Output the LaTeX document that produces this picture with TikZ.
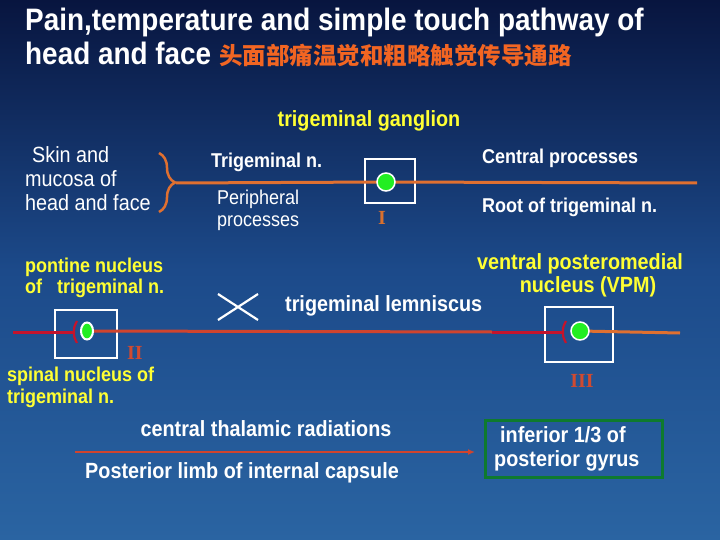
\documentclass[tikz,border=0pt]{standalone}
\usepackage{fontspec}
\usetikzlibrary{arrows.meta,decorations.pathreplacing,shapes.geometric}
\newfontfamily\tf[FakeStretch=0.9]{Liberation Sans}
\newfontfamily\cjk{Noto Sans CJK SC}
\newfontfamily\rom{Liberation Serif}
\definecolor{bgtop}{HTML}{08153F}
\definecolor{bgmid}{HTML}{1C4A8A}
\definecolor{bgbot}{HTML}{2A64A2}
\definecolor{orl}{HTML}{E07030}
\definecolor{redl}{HTML}{D0442E}
\definecolor{dred}{HTML}{C4142C}
\definecolor{yel}{HTML}{FFFF33}
\definecolor{cn}{HTML}{F26522}
\definecolor{gdot}{HTML}{22EE22}
\definecolor{gbox}{HTML}{0E7A2E}
\definecolor{numI}{HTML}{D8702E}
\definecolor{numR}{HTML}{D04A30}
\tikzset{
  lbl/.style={inner sep=0pt, anchor=base west, text=white},
  bigb/.style={font=\tf\bfseries\fontsize{22}{24}\selectfont},
  bigr/.style={font=\tf\fontsize{22}{24}\selectfont},
  smb/.style={font=\tf\bfseries\fontsize{20}{22}\selectfont},
  smr/.style={font=\tf\fontsize{20}{22}\selectfont},
  numstyle/.style={inner sep=0pt, anchor=base, font=\rom\bfseries\fontsize{20}{22}\selectfont},
  nbox/.style={draw=white, line width=2.5pt, inner sep=0pt},
  dotc/.style={circle, fill=gdot, draw=white, line width=1.5pt, minimum size=18pt, inner sep=0pt},
  olin/.style={draw=orl, line width=3pt},
  rlin/.style={draw=redl, line width=3pt},
  drlin/.style={draw=dred, line width=3pt},
}
\begin{document}
\begin{tikzpicture}[x=1pt,y=-1pt]
\shade[top color=bgtop, bottom color=bgbot, middle color=bgmid] (0,0) rectangle (720,540);
\useasboundingbox (0,0) rectangle (720,540);

% title
\node[lbl, font=\tf\bfseries\fontsize{31}{33}\selectfont] (t1) at (25,31) {Pain,temperature and simple touch pathway of};
\node[lbl, font=\tf\bfseries\fontsize{31}{33}\selectfont] (t2) at (25,65) {head and face {\cjk\bfseries\fontsize{23.5}{26}\selectfont\color{cn}头面部痛温觉和粗略触觉传导通路}};

\node[lbl, bigb, text=yel, anchor=base] (gang) at (369,126.5) {trigeminal ganglion};

% boxes
\node[nbox, minimum width=50pt, minimum height=44pt] (boxI) at (390,181) {};
\node[nbox, minimum width=62pt, minimum height=48pt] (boxII) at (86,334) {};
\node[nbox, minimum width=68pt, minimum height=55pt] (boxIII) at (579,334.5) {};

% coordinates
\coordinate (btip) at (176,183);
\coordinate (cpend) at (697,183);
\coordinate (l2s) at (13,332);
\coordinate (syn2) at (74,332);
\coordinate (mid) at (492,332);
\coordinate (syn3) at (563,332);
\coordinate (l3e) at (680,333);
\coordinate (ar1) at (75,452);
\coordinate (ar2) at (475,452);

% dots (positions)
\coordinate (dI) at (386,182);
\coordinate (dII) at (87,331);
\coordinate (dIII) at (580,331);

% brace
\draw[orl, line width=2.5pt, decorate, decoration={brace, amplitude=16pt}] (159,153) -- (159,212);

% lines
\draw[olin] (btip) -- (dI) -- (cpend);
\draw[drlin] (l2s) -- (syn2);
\draw[dred, line width=2.2pt] ([shift={(3,-11)}]syn2) .. controls ([shift={(0,-5)}]syn2) .. (syn2) .. controls ([shift={(0,5)}]syn2) .. ([shift={(3,11)}]syn2);
\draw[rlin] (dII) -- (mid);
\draw[drlin] (mid) -- (syn3);
\draw[dred, line width=2.2pt] ([shift={(3,-11)}]syn3) .. controls ([shift={(0,-5)}]syn3) .. (syn3) .. controls ([shift={(0,5)}]syn3) .. ([shift={(3,11)}]syn3);
\draw[olin] (dIII) -- (l3e);
\draw[redl, line width=2.5pt, -{Latex[length=7pt,width=6pt]}] (ar1) -- (ar2);

% decussation
\draw[white, line width=2.2pt] (218,294) -- (258,320) (218,320) -- (258,294);

% dots
\node[dotc] (dotI) at (dI) {};
\node[ellipse, fill=gdot, draw=white, line width=2pt, minimum width=12pt, minimum height=17pt, inner sep=0pt] (dotII) at (dII) {};
\node[dotc] (dotIII) at (dIII) {};

% left texts
\node[lbl, bigr] (sk1) at (32,162.5) {Skin and};
\node[lbl, bigr] (sk2) at (25,186.5) {mucosa of};
\node[lbl, bigr] (sk3) at (25,210.5) {head and face};

\node[lbl, smb] (trn) at (211,168) {Trigeminal n.};
\node[lbl, smr] (per1) at (217,205) {Peripheral};
\node[lbl, smr] (per2) at (217,226) {processes};
\node[lbl, smb] (cen) at (482,164) {Central processes};
\node[lbl, smb] (root) at (482,213) {Root of trigeminal n.};

\node[numstyle, text=numI] (nI) at (382,225) {I};
\node[numstyle, text=numR] (nII) at (135,359) {II};
\node[numstyle, text=numR] (nIII) at (582,387) {III};

\node[lbl, smb, text=yel] (pon1) at (25,272) {pontine nucleus};
\node[lbl, smb, text=yel] (pon2) at (25,293) {of\hspace{10pt} trigeminal n.};
\node[lbl, smb, text=yel] (sp1) at (7,381) {spinal nucleus of};
\node[lbl, smb, text=yel] (sp2) at (7,403) {trigeminal n.};

\node[lbl, bigb] (lem) at (285,311.5) {trigeminal lemniscus};
\node[lbl, bigb, text=yel, anchor=base] (vpm1) at (580,269.5) {ventral posteromedial};
\node[lbl, bigb, text=yel, anchor=base] (vpm2) at (588,292.5) {nucleus (VPM)};

\node[lbl, bigb, anchor=base] (ctr) at (266,436.5) {central thalamic radiations};
\node[lbl, bigb, anchor=base] (plic) at (242,478.5) {Posterior limb of internal capsule};

\node[draw=gbox, line width=3pt, minimum width=177pt, minimum height=57pt, inner sep=0pt] (gyr) at (573.5,448.5) {};
\node[lbl, bigb] (gy1) at (500,442.5) {inferior 1/3 of};
\node[lbl, bigb] (gy2) at (494,466.5) {posterior gyrus};
\end{tikzpicture}
\end{document}
